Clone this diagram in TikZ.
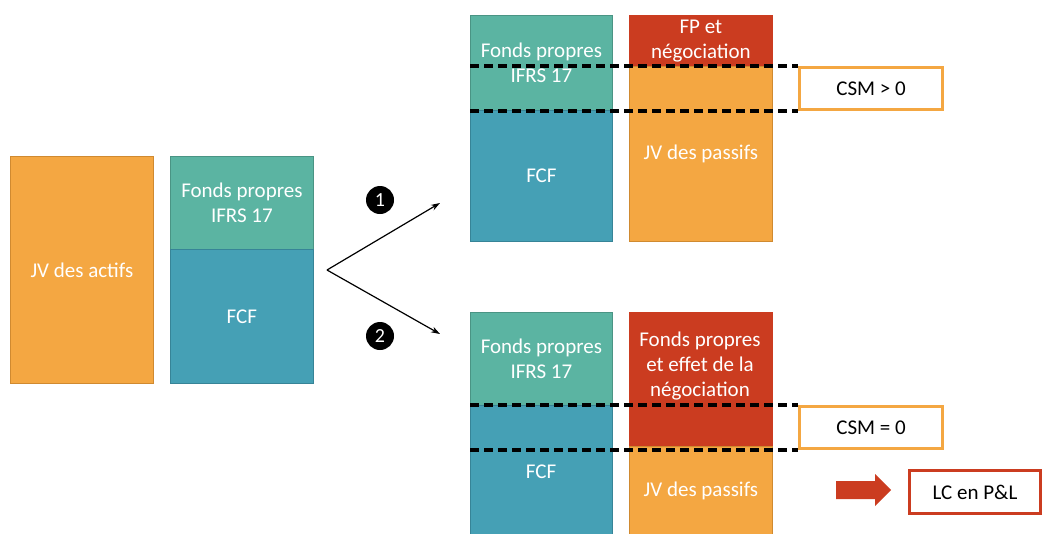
\documentclass[tikz,border=0pt]{standalone}
\usepackage{fontspec}
\setmainfont{Carlito}
\usetikzlibrary{arrows.meta}
\definecolor{cOr}{HTML}{F4A742}
\definecolor{cOrB}{HTML}{D08A30}
\definecolor{cTe}{HTML}{5BB4A2}
\definecolor{cTeB}{HTML}{4A9484}
\definecolor{cBl}{HTML}{45A0B5}
\definecolor{cBlB}{HTML}{378497}
\definecolor{cRe}{HTML}{CB3C20}
\tikzset{
  blk/.style={draw, line width=0.8pt, anchor=north west, inner sep=0pt, text=white, align=center,
     font=\fontsize{21}{25}\selectfont},
  orb/.style={blk, fill=cOr, draw=cOrB},
  teb/.style={blk, fill=cTe, draw=cTeB},
  blb/.style={blk, fill=cBl, draw=cBlB},
  reb/.style={blk, fill=cRe, draw=cRe},
  dsh/.style={line width=3.2pt, dash pattern=on 9pt off 5pt},
  csm/.style={draw=cOr, line width=3pt, fill=white, anchor=north west, minimum width=143pt, minimum height=42pt, inner sep=0pt, font=\fontsize{21}{25}\selectfont},
  num/.style={circle, fill=black, text=white, minimum size=28pt, inner sep=0pt, font=\fontsize{20}{20}\selectfont},
  arr/.style={line width=1.2pt, -{Stealth[length=9pt,width=6pt]}},
}
\begin{document}
\begin{tikzpicture}[x=1pt,y=-1pt]
\useasboundingbox (0,0) rectangle (1043,533);
% left
\node[orb, minimum width=143pt, minimum height=227pt] (jva) at (10,156) {JV des actifs};
\node[teb, minimum width=143pt, minimum height=93pt] (fp0) at (170,156) {Fonds propres\\IFRS 17};
\node[blb, minimum width=143pt, minimum height=134pt] (fcf0) at (170,249) {FCF};
% arrows
\coordinate (o) at (327,270);
\coordinate (t1) at (440,203);
\coordinate (t2) at (440,334);
\draw[arr] (o) -- (t1);
\draw[arr] (o) -- (t2);
\node[num] (n1) at (380,200) {1};
\node[num] (n2) at (380,336) {2};
% top group
\node[teb, minimum width=142pt, minimum height=95pt] (fp1) at (470,15) {Fonds propres\\IFRS 17};
\node[blb, minimum width=142pt, minimum height=131pt] (fcf1) at (470,110) {FCF};
\node[reb, minimum width=143pt, minimum height=51pt] (neg1) at (629,15) {FP et\\négociation};
\node[orb, minimum width=143pt, minimum height=175pt] (jvp1) at (629,66) {JV des passifs};
\node[csm] (csm1) at (798,66) {CSM > 0};
\draw[dsh] (fp1.west |- csm1.north) -- (csm1.north west);
\draw[dsh] (fp1.west |- csm1.south) -- (csm1.south west);
% bottom group
\node[teb, minimum width=142pt, minimum height=93pt] (fp2) at (470,312) {Fonds propres\\IFRS 17};
\node[blb, minimum width=142pt, minimum height=130pt] (fcf2) at (470,405) {};
\node[text=white, font=\fontsize{21}{25}\selectfont] (fcf2t) at (541,472) {FCF};
\node[reb, minimum width=143pt, minimum height=134pt] (neg2) at (629,312) {};
\node[text=white, align=center, font=\fontsize{21}{25}\selectfont] (neg2t) at (700,366) {Fonds propres\\et effet de la\\négociation};
\node[orb, minimum width=143pt, minimum height=89pt] (jvp2) at (629,446) {JV des passifs};
\node[csm] (csm2) at (798,405) {CSM = 0};
\draw[dsh] (fp2.west |- csm2.north) -- (csm2.north west);
\draw[dsh] (fp2.west |- csm2.south) -- (csm2.south west);
% block arrow and LC
\fill[cRe] (836,481) -- (875,481) -- (875,474) -- (891,490) -- (875,506) -- (875,499) -- (836,499) -- cycle;
\node[draw=cRe, line width=3pt, fill=white, anchor=north west, minimum width=131pt, minimum height=43pt, inner sep=0pt, font=\fontsize{21}{25}\selectfont] (lc) at (908,469) {LC en P\&L};
\end{tikzpicture}
\end{document}
